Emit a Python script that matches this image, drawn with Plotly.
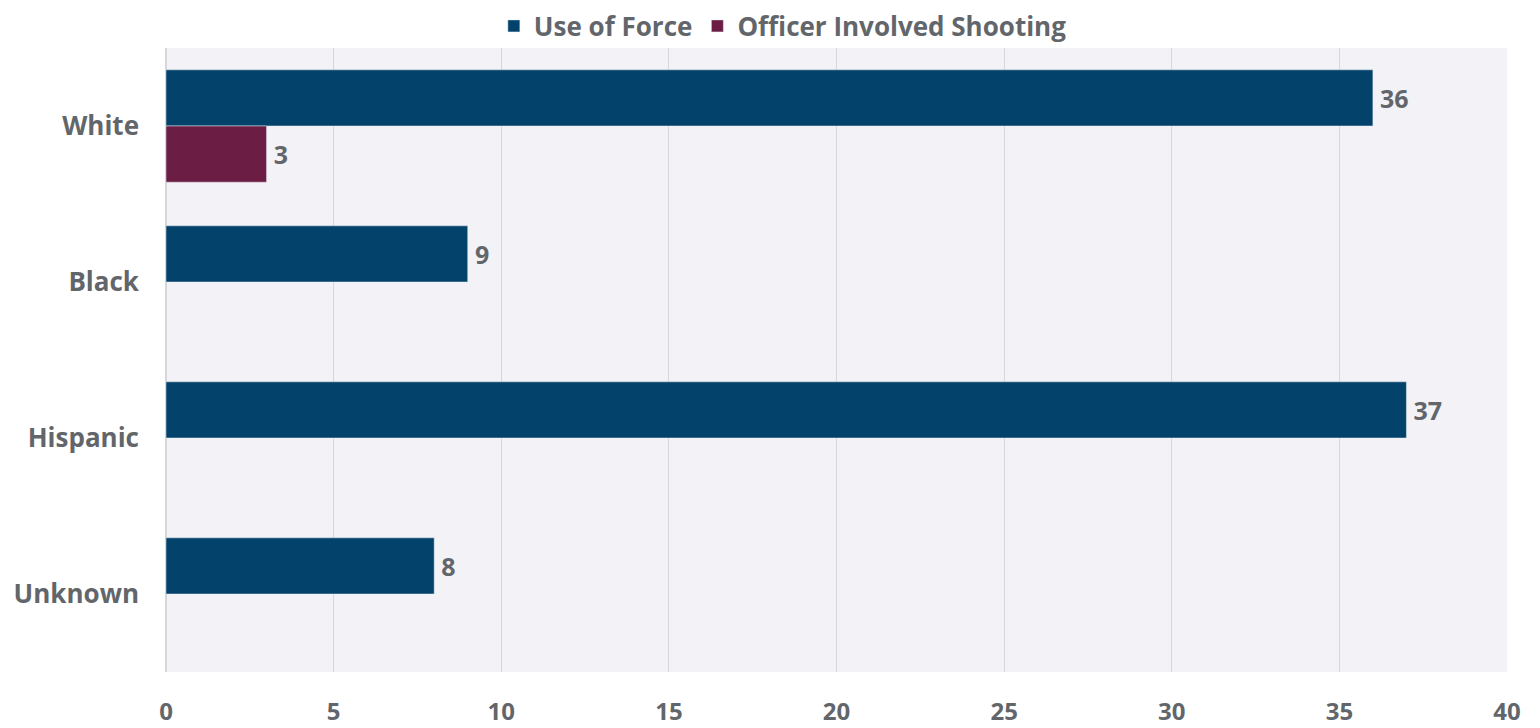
import plotly.graph_objects as go

categories = ["White", "Black", "Hispanic", "Unknown"]
use_of_force = [36, 9, 37, 8]
officer_shooting = [3, None, None, None]
x_ticks = [0, 5, 10, 15, 20, 25, 30, 35, 40]

navy = "#03426a"
maroon = "#6b1d43"
gray = "#62666b"
font_family = "Open Sans"

fig = go.Figure()
fig.add_trace(go.Bar(
    y=categories, x=use_of_force, orientation="h", name="Use of Force",
    marker_color=navy, texttemplate="\u2009%{x}", textposition="outside",
    textfont=dict(size=25, color=gray, family=font_family, weight="bold"),
    cliponaxis=False,
))
fig.add_trace(go.Bar(
    y=categories, x=officer_shooting, orientation="h", name="Officer Involved Shooting",
    marker_color=maroon, texttemplate="\u2009%{x}",
    textposition="outside",
    textfont=dict(size=25, color=gray, family=font_family, weight="bold"),
    cliponaxis=False,
))

fig.update_layout(
    width=1540, height=728,
    barmode="group", bargap=0.28, bargroupgap=0,
    paper_bgcolor="white", plot_bgcolor="#f3f3f7",
    margin=dict(l=158, r=41, t=40, b=64, autoexpand=False),
    font=dict(family=font_family, color=gray),
    legend=dict(
        orientation="h", xanchor="center", x=0.46,
        yref="paper", yanchor="middle", y=1 + 22 / 624,
        bgcolor="rgba(0,0,0,0)",
        font=dict(size=26, color=gray, family=font_family, weight="bold"),
        itemwidth=30, traceorder="normal",
    ),
    xaxis=dict(
        range=[0, 40], tickvals=x_ticks, showgrid=True, gridcolor="#d6d6db",
        gridwidth=1, zeroline=True, zerolinecolor="#d6d6db",
        tickfont=dict(size=24, color=gray, family=font_family, weight="bold"),
        ticklabelstandoff=23, showline=False, automargin=False,
    ),
    yaxis=dict(
        autorange="reversed",
        tickfont=dict(size=26, color=gray, family=font_family, weight="bold"),
        ticklabelstandoff=26, showgrid=False, automargin=False,
    ),
)

fig.write_html("out.html")
